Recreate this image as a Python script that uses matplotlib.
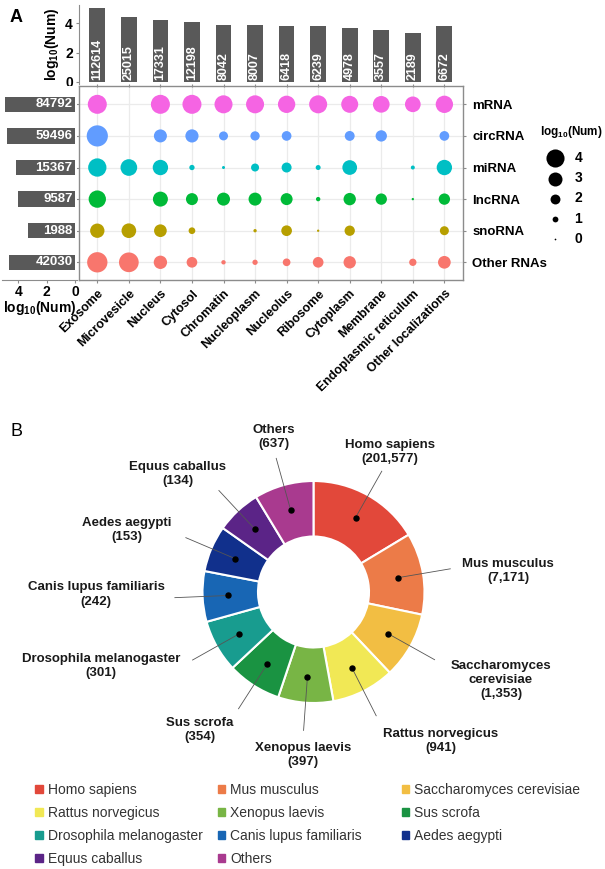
import numpy as np
import matplotlib.pyplot as plt
from matplotlib.patches import Patch

plt.rcParams['font.family'] = ['Liberation Sans', 'DejaVu Sans']
plt.rcParams['mathtext.fontset'] = 'custom'
plt.rcParams['mathtext.rm'] = 'Liberation Sans'
plt.rcParams['mathtext.bf'] = 'Liberation Sans:bold'

# ---- panel A data ----
localizations = ['Exosome', 'Microvesicle', 'Nucleus', 'Cytosol', 'Chromatin', 'Nucleoplasm',
                 'Nucleolus', 'Ribosome', 'Cytoplasm', 'Membrane', 'Endoplasmic reticulum',
                 'Other localizations']
loc_counts = [112614, 25015, 17331, 12198, 8042, 8007, 6418, 6239, 4978, 3557, 2189, 6672]

# bottom to top
rna_types = ['Other RNAs', 'snoRNA', 'lncRNA', 'miRNA', 'circRNA', 'mRNA']
rna_counts = [42030, 1988, 9587, 15367, 59496, 84792]
rna_colors = ['#F8766D', '#B79F00', '#00BA38', '#00BFC4', '#619CFF', '#F564E3']

nan = np.nan
# log10(Num) for each RNA type / localization
other_rnas = [4.54, 4.39, 2.84, 2.19, 0.65, 0.88, 1.46, 2.19, 2.6, nan, 1.37, 2.68]
snorna = [3.08, 3.16, 2.68, 1.22, nan, 0.4, 2.19, 0.16, 2.1, nan, nan, 1.78]
lncrna = [3.81, nan, 3.24, 2.51, 2.76, 2.76, 2.51, 0.65, 2.6, 2.35, 0.16, 2.35]
mirna = [4.05, 3.65, 3.33, 0.88, 0.32, 1.54, 2.02, 0.8, 3.17, nan, 0.56, 3.33]
circrna = [4.75, nan, 2.76, 2.8, 1.78, 1.85, 1.95, nan, 2.0, 2.35, nan, 1.95]
mrna = [4.22, nan, 4.22, 4.22, 3.98, 3.98, 3.81, 3.98, 3.73, 3.65, 3.41, 3.81]
cell_values = [other_rnas, snorna, lncrna, mirna, circrna, mrna]

# ---- panel B data ----
species = ['Homo sapiens', 'Mus musculus', 'Saccharomyces cerevisiae', 'Rattus norvegicus',
           'Xenopus laevis', 'Sus scrofa', 'Drosophila melanogaster', 'Canis lupus familiaris',
           'Aedes aegypti', 'Equus caballus', 'Others']
species_counts = [201577, 7171, 1353, 941, 397, 354, 301, 242, 153, 134, 637]
species_colors = ['#E2483A', '#EC7B48', '#F2BE43', '#F1E855', '#78B545', '#1A9342',
                  '#189C8F', '#1866B4', '#11308C', '#5B2487', '#A93A8F']

W, H = 605, 869
fig = plt.figure(figsize=(W / 100, H / 100), dpi=100)


def box(x0, y0, x1, y1):
    return [x0 / W, 1 - y1 / H, (x1 - x0) / W, (y1 - y0) / H]


def dot_size(v):
    return (0.72 * (1.7 + 4.1 * np.asarray(v))) ** 2


grey = '#8c8c8c'
bar_grey = '#595959'
bold = dict(fontweight='bold')
logn = r'$\mathbf{log_{10}(Num)}$'

# ---- main bubble grid ----
ax = fig.add_axes(box(79, 86, 463.3, 280))
xs = np.arange(len(localizations))
for i, (vals, col) in enumerate(zip(cell_values, rna_colors)):
    ax.scatter(xs, np.full(len(xs), i), s=dot_size(vals), color=col, linewidths=0, zorder=3)
ax.set_xlim(-0.58, 11.6)
ax.set_ylim(-0.56, 5.58)
ax.set_axisbelow(True)
ax.grid(color='#EBEBEB', lw=0.9)
ax.set_xticks(xs)
ax.set_xticklabels(localizations, rotation=45, ha='right', va='top', rotation_mode='anchor',
                   fontsize=9, **bold)
ax.set_yticks(range(len(rna_types)))
ax.set_yticklabels(rna_types, fontsize=9.5, **bold)
ax.tick_params(axis='y', left=True, right=True, labelleft=False, labelright=True,
               length=2.5, color=grey, pad=4)
ax.tick_params(axis='x', length=2.5, color=grey, pad=3)
for sp in ax.spines.values():
    sp.set_color(grey)
    sp.set_linewidth(1)

# ---- top bars ----
axt = fig.add_axes(box(79, 5, 463.3, 84), sharex=ax)
axt.bar(xs, np.log10(loc_counts), width=0.5, color=bar_grey)
for x, n in zip(xs, loc_counts):
    axt.text(x, 0.15, str(n), rotation=90, ha='center', va='bottom', color='white',
             fontsize=9, **bold)
axt.set_ylim(-0.14, 5.24)
axt.set_yticks([0, 2, 4])
axt.set_yticklabels(['0', '2', '4'], fontsize=10, **bold)
axt.set_ylabel(logn, fontsize=10, labelpad=3)
for s in ['top', 'right', 'bottom']:
    axt.spines[s].set_visible(False)
axt.spines['left'].set_color(grey)
axt.tick_params(axis='x', labelbottom=False, length=2.5, color=grey)
axt.tick_params(axis='y', length=2.5, color=grey, pad=2)

# ---- left bars ----
axl = fig.add_axes(box(2, 86, 77, 280), sharey=ax)
axl.barh(range(len(rna_types)), np.log10(rna_counts), height=0.49, color=bar_grey)
for y, n in enumerate(rna_counts):
    axl.text(0.16, y, str(n), ha='right', va='center', color='white', fontsize=9.5, **bold)
axl.set_xlim(5.14, -0.14)
axl.set_xticks([4, 2, 0])
axl.set_xticklabels(['4', '2', '0'], fontsize=10, **bold)
axl.set_xlabel(logn, fontsize=10, labelpad=0)
for s in ['top', 'right', 'left']:
    axl.spines[s].set_visible(False)
axl.spines['bottom'].set_color(grey)
axl.tick_params(axis='y', left=False, labelleft=False)
axl.tick_params(axis='x', length=2.5, color=grey, pad=1)

# size legend
handles = [ax.scatter([], [], s=dot_size(v), color='black', linewidths=0) for v in [4, 3, 2, 1, 0]]
fig.legend(handles, ['4', '3', '2', '1', '0'], loc='upper left',
           bbox_to_anchor=(541 / W, 1 - 151 / H), frameon=False,
           handletextpad=0.4, labelspacing=0.45, borderpad=0, borderaxespad=0,
           prop=dict(size=10, weight='bold'))
fig.text(603 / W, 1 - 132 / H, 'log' + r'$_{\mathregular{10}}$' + '(Num)', ha='right',
         va='center', fontsize=8.5, fontweight='bold')

fig.text(10 / W, 1 - 17 / H, 'A', fontsize=13, fontweight='bold', va='center')
fig.text(11 / W, 1 - 432 / H, 'B', fontsize=13, va='center')

# ---- panel B donut ----
cx, cy, R = 313.5, 592, 111
axd = fig.add_axes(box(0, 420, W, 775))
axd.axis('off')
wedges, _ = axd.pie(np.log10(species_counts), colors=species_colors, startangle=90,
                    counterclock=False, radius=1,
                    wedgeprops=dict(width=0.5, edgecolor='white', linewidth=1.5))
axd.set_xlim(-cx / R, (W - cx) / R)
axd.set_ylim((cy - 775) / R, (cy - 420) / R)
axd.set_aspect('auto')

label_pos = [(0.689, 1.261), (1.752, 0.189), (1.689, -0.793), (1.149, -1.342),
             (-0.095, -1.468), (-1.023, -1.243), (-1.914, -0.667), (-1.959, -0.023),
             (-1.680, 0.559), (-1.221, 1.063), (-0.356, 1.396)]
for w, name, n, (lx, ly) in zip(wedges, species, species_counts, label_pos):
    a = np.deg2rad((w.theta1 + w.theta2) / 2)
    axd.plot([0.77 * np.cos(a), 1.25 * np.cos(a)], [0.77 * np.sin(a), 1.25 * np.sin(a)],
             color='#555555', lw=0.6)
    axd.plot(0.77 * np.cos(a), 0.77 * np.sin(a), 'o', color='black', ms=3.6)
    txt = name.replace('Saccharomyces ', 'Saccharomyces\n') + f'\n({n:,})'
    axd.text(lx, ly, txt, ha='center', va='center', fontsize=9.5, fontweight='bold',
             linespacing=1.25, color='#1a1a1a')

# bottom legend, row-major in three columns
col_x = [38.6, 221, 405]
for c in range(3):
    idx = list(range(c, len(species), 3))
    hs = [Patch(color=species_colors[i]) for i in idx]
    fig.legend(hs, [species[i] for i in idx], loc='upper left',
               bbox_to_anchor=((col_x[c] - 3.5) / W, 1 - 783 / H), frameon=False,
               handlelength=0.55, handleheight=0.55, handletextpad=0.35, borderpad=0,
               borderaxespad=0, labelspacing=0.65, fontsize=10, labelcolor='#333333')

fig.savefig('out.png', dpi=100)
